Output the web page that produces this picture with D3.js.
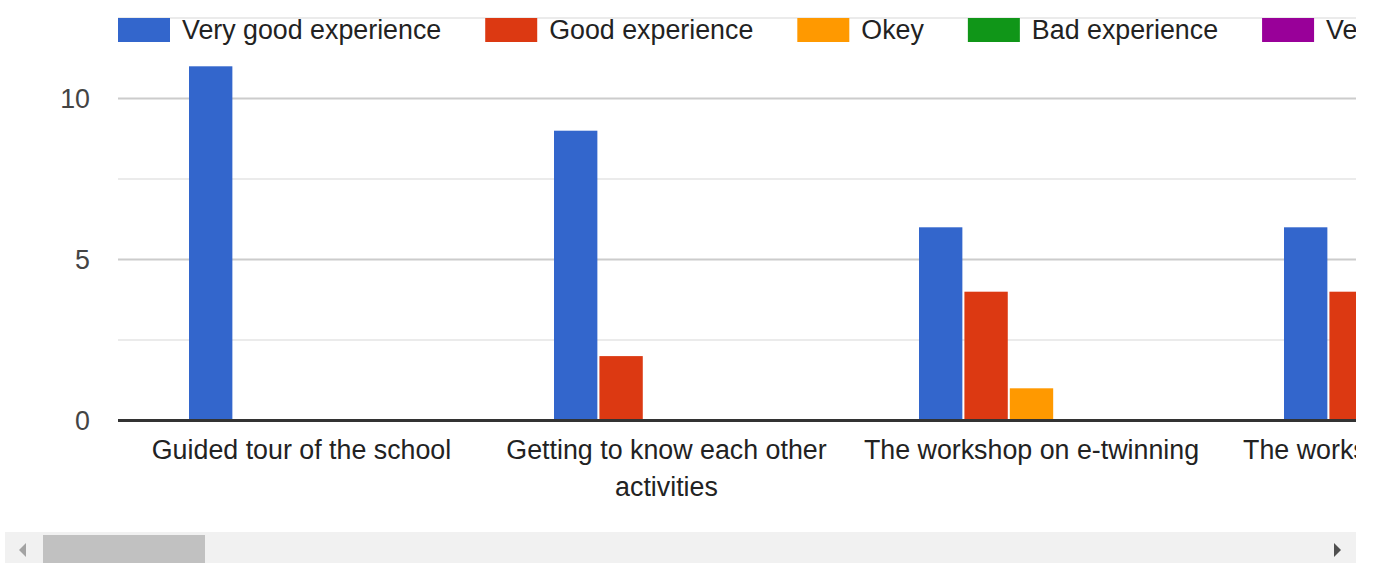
<!DOCTYPE html>
<meta charset="utf-8">
<style>
body { margin: 0; background: #fff; }
text { font-family: "Liberation Sans", Arial, sans-serif; }
.grid-major { stroke: #cccccc; stroke-width: 2px; }
.grid-minor { stroke: #ebebeb; stroke-width: 2px; }
.baseline { stroke: #333333; stroke-width: 3px; }
.tick-label { fill: #444; font-size: 26.8px; }
.cat-label { fill: #222; font-size: 26.8px; }
.legend-label { fill: #222; font-size: 26.8px; }
</style>
<body>
<svg id="chart" width="1376" height="563"></svg>
<script src="https://d3js.org/d3.v7.min.js"></script>
<script>

var categories = ["Guided tour of the school", "Getting to know each other activities", "The workshop on e-twinning", "The workshop on robotics"];
var seriesNames = ["Very good experience", "Good experience", "Okey", "Bad experience", "Very bad experience"];
var seriesColors = ["#3366cc", "#dc3912", "#ff9900", "#109618", "#990099"];

var veryGood = [11, 9, 6, 6];
var good = [0, 2, 4, 4];
var okey = [0, 0, 1, 0];
var bad = [0, 0, 0, 0];
var veryBad = [0, 0, 0, 0];

var majorTicks = [0, 5, 10];
var minorTicks = [2.5, 7.5, 12.5];

var values = [veryGood, good, okey, bad, veryBad];

var plotLeft = 118, plotRight = 1356, plotTop = 18, plotBottom = 420.5,
    step = 365;

var svg = d3.select("#chart");

// groups are centred one pixel right of the plot's left edge
var x0 = d3.scaleBand()
  .domain(categories)
  .range([plotLeft + 1, plotLeft + 1 + step * categories.length])
  .paddingInner(140 / 365)
  .paddingOuter(70 / 365);

var x1 = d3.scaleBand()
  .domain(seriesNames)
  .range([0, x0.bandwidth()])
  .paddingInner(0.045);

var y = d3.scaleLinear().domain([0, 12.5]).range([plotBottom, plotTop]);

svg.append("defs").append("clipPath").attr("id", "plotclip")
  .append("rect").attr("x", 0).attr("y", 0).attr("width", plotRight).attr("height", 530);

var plot = svg.append("g").attr("clip-path", "url(#plotclip)");

// gridlines
plot.selectAll(".grid-minor").data(minorTicks).enter().append("line")
  .attr("class", "grid-minor")
  .attr("x1", plotLeft).attr("x2", plotRight)
  .attr("y1", function(d) { return y(d); }).attr("y2", function(d) { return y(d); });

plot.selectAll(".grid-major").data(majorTicks.filter(function(d) { return d > 0; })).enter().append("line")
  .attr("class", "grid-major")
  .attr("x1", plotLeft).attr("x2", plotRight)
  .attr("y1", function(d) { return y(d); }).attr("y2", function(d) { return y(d); });

// bars
var groups = plot.selectAll(".group").data(categories).enter().append("g")
  .attr("transform", function(d) { return "translate(" + x0(d) + ",0)"; });

groups.selectAll("rect")
  .data(function(d, i) { return seriesNames.map(function(s, k) { return {s: s, k: k, v: values[k][i]}; }); })
  .enter().filter(function(d) { return d.v > 0; }).append("rect")
  .attr("x", function(d) { return x1(d.s); })
  .attr("width", x1.bandwidth())
  .attr("y", function(d) { return y(d.v); })
  .attr("height", function(d) { return y(0) - y(d.v); })
  .attr("fill", function(d) { return seriesColors[d.k]; });

plot.append("line").attr("class", "baseline")
  .attr("x1", plotLeft).attr("x2", plotRight)
  .attr("y1", y(0)).attr("y2", y(0));

// category labels, wrapped
groups.append("text")
  .attr("class", "cat-label")
  .attr("text-anchor", "middle")
  .attr("x", x0.bandwidth() / 2)
  .attr("y", 450)
  .each(function(d) {
    var t = d3.select(this), words = d.split(" "), line = [],
        tspan = t.append("tspan").attr("x", x0.bandwidth() / 2).attr("dy", "0.35em");
    words.forEach(function(w) {
      line.push(w);
      tspan.text(line.join(" "));
      if (tspan.node().getComputedTextLength() > 350 && line.length > 1) {
        line.pop();
        tspan.text(line.join(" "));
        line = [w];
        tspan = t.append("tspan").attr("x", x0.bandwidth() / 2).attr("dy", "37px").text(w);
      }
    });
  });

// y tick labels
svg.selectAll(".tick-label").data(majorTicks).enter().append("text")
  .attr("class", "tick-label")
  .attr("text-anchor", "end")
  .attr("x", 90)
  .attr("y", function(d) { return y(d); })
  .attr("dy", "0.35em")
  .text(function(d) { return d; });

// legend
var legend = plot.append("g");
var lx = plotLeft;
seriesNames.forEach(function(s, k) {
  legend.append("rect")
    .attr("x", lx).attr("y", 18).attr("width", 52).attr("height", 24)
    .attr("fill", seriesColors[k]);
  var t = legend.append("text")
    .attr("class", "legend-label")
    .attr("x", lx + 64).attr("y", 30).attr("dy", "0.35em")
    .text(s);
  lx = lx + 64 + t.node().getComputedTextLength() + 44;
});

// scrollbar
var sb = svg.append("g");
sb.append("rect").attr("x", 5).attr("y", 532).attr("width", plotRight - 5).attr("height", 31).attr("fill", "#f1f1f1");
sb.append("rect").attr("x", 43).attr("y", 535).attr("width", 162).attr("height", 28).attr("fill", "#c1c1c1");
sb.append("path").attr("d", "M26,543L19,550L26,557Z").attr("fill", "#a3a3a3");
sb.append("path").attr("d", "M1334,543L1341,550L1334,557Z").attr("fill", "#505050");

</script>
</body>
</html>
